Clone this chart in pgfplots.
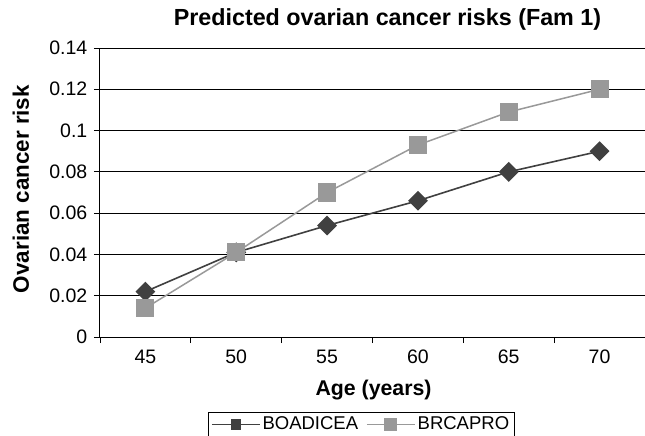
\documentclass[border=0pt]{standalone}
\usepackage{fontspec}
\setmainfont{Liberation Sans}
\usepackage{pgfplots}
\pgfplotsset{compat=1.18}
\definecolor{boad}{HTML}{404040}
\definecolor{brca}{HTML}{999999}

\begin{document}
\fontsize{19.5}{22}\selectfont
\begin{tikzpicture}
\begin{axis}[
    at={(0pt,0pt)}, anchor=south west,
    scale only axis, width=545pt, height=289pt,
    xmin=42.5, xmax=72.5, ymin=0, ymax=0.14,
    axis x line*=bottom, axis y line*=left,
    axis line style={-, line width=1pt},
    xtick={42.5,47.5,52.5,57.5,62.5,67.5,72.5},
    xticklabels={45,50,55,60,65,70,},
    xticklabel style={xshift=45.4pt},
    ytick={0,0.02,0.04,0.06,0.08,0.1,0.12,0.14},
    yticklabels={0,0.02,0.04,0.06,0.08,0.1,0.12,0.14},
    tick align=outside, major tick length=6pt,
    tick style={black, line width=0.8pt},
    ymajorgrids, major grid style={black, line width=0.8pt},
    /pgf/number format/assume math mode=true,
    ticklabel style={font=\fontsize{19.5}{22}\selectfont},
    title={\bfseries Predicted ovarian cancer risks (Fam 1)},
    title style={at={(axis description cs:0.5275,1)}, anchor=base, yshift=16pt, font=\fontsize{23.3}{26}\selectfont},
    xlabel={\bfseries Age (years)},
    xlabel style={at={(axis description cs:0.502,-0.183)}, anchor=center, font=\fontsize{21.3}{24}\selectfont},
    ylabel={\bfseries Ovarian cancer risk},
    ylabel style={at={(axis description cs:-0.145,0.512)}, anchor=center, font=\fontsize{22.4}{25}\selectfont},
    legend style={at={(axis description cs:0.479,-0.26)}, anchor=north, legend columns=2,
        draw=black, line width=0.8pt, font=\fontsize{18.5}{20}\selectfont,
        /tikz/every even column/.append style={column sep=6pt}},
    legend image code/.code={%
        \draw[mark repeat=2, mark phase=2, mark options={scale=0.7}] plot coordinates {(0pt,0pt) (24pt,0pt) (48pt,0pt)};},
    clip=false,
]
\addplot[boad, line width=1.6pt, mark=square*, mark size=6.2pt, mark options={rotate=45, fill=boad}]
    coordinates {(45,0.022) (50,0.041) (55,0.054) (60,0.066) (65,0.080) (70,0.090)};
\addlegendentry{BOADICEA}
\addplot[brca, line width=1.5pt, mark=square*, mark size=8.3pt, mark options={fill=brca}]
    coordinates {(45,0.014) (50,0.041) (55,0.070) (60,0.093) (65,0.109) (70,0.120)};
\addlegendentry{BRCAPRO}
\end{axis}
\pgfresetboundingbox
\useasboundingbox (-100pt,-99pt) rectangle (545pt,337pt);
\end{tikzpicture}
\end{document}
